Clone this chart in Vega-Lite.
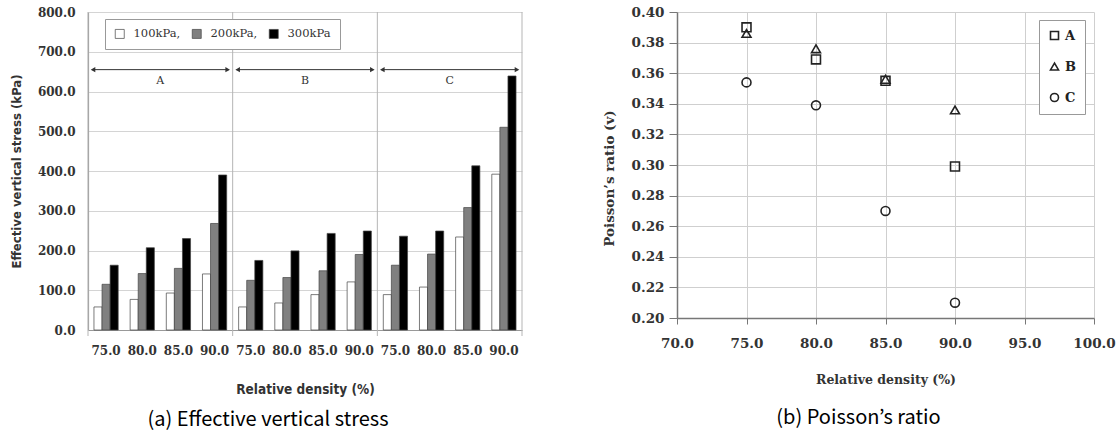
{
  "$schema": "https://vega.github.io/schema/vega-lite/v6.json",
  "padding": {"left": 10, "top": 5, "right": 0, "bottom": 0},
  "background": "white",
  "spacing": 79,
  "resolve": {"legend": {"color": "independent", "shape": "independent"}},
  "config": {
    "view": {"stroke": null},
    "font": "DejaVu Serif",
    "axis": {"labelColor": "#333", "titleColor": "#333", "labelOverlap": false, "labelFlush": false}
  },
  "datasets": {
    "stress": [
      {"cat": "A 75.0", "pressure": "100kPa", "value": 58},
      {"cat": "A 75.0", "pressure": "200kPa", "value": 115},
      {"cat": "A 75.0", "pressure": "300kPa", "value": 163},
      {"cat": "A 80.0", "pressure": "100kPa", "value": 77},
      {"cat": "A 80.0", "pressure": "200kPa", "value": 142},
      {"cat": "A 80.0", "pressure": "300kPa", "value": 207},
      {"cat": "A 85.0", "pressure": "100kPa", "value": 93},
      {"cat": "A 85.0", "pressure": "200kPa", "value": 155},
      {"cat": "A 85.0", "pressure": "300kPa", "value": 230},
      {"cat": "A 90.0", "pressure": "100kPa", "value": 141},
      {"cat": "A 90.0", "pressure": "200kPa", "value": 268},
      {"cat": "A 90.0", "pressure": "300kPa", "value": 390},
      {"cat": "B 75.0", "pressure": "100kPa", "value": 58},
      {"cat": "B 75.0", "pressure": "200kPa", "value": 125},
      {"cat": "B 75.0", "pressure": "300kPa", "value": 175},
      {"cat": "B 80.0", "pressure": "100kPa", "value": 68},
      {"cat": "B 80.0", "pressure": "200kPa", "value": 132},
      {"cat": "B 80.0", "pressure": "300kPa", "value": 199},
      {"cat": "B 85.0", "pressure": "100kPa", "value": 89},
      {"cat": "B 85.0", "pressure": "200kPa", "value": 149},
      {"cat": "B 85.0", "pressure": "300kPa", "value": 243},
      {"cat": "B 90.0", "pressure": "100kPa", "value": 121},
      {"cat": "B 90.0", "pressure": "200kPa", "value": 190},
      {"cat": "B 90.0", "pressure": "300kPa", "value": 249},
      {"cat": "C 75.0", "pressure": "100kPa", "value": 89},
      {"cat": "C 75.0", "pressure": "200kPa", "value": 163},
      {"cat": "C 75.0", "pressure": "300kPa", "value": 236},
      {"cat": "C 80.0", "pressure": "100kPa", "value": 108},
      {"cat": "C 80.0", "pressure": "200kPa", "value": 191},
      {"cat": "C 80.0", "pressure": "300kPa", "value": 249},
      {"cat": "C 85.0", "pressure": "100kPa", "value": 234},
      {"cat": "C 85.0", "pressure": "200kPa", "value": 308},
      {"cat": "C 85.0", "pressure": "300kPa", "value": 413},
      {"cat": "C 90.0", "pressure": "100kPa", "value": 392},
      {"cat": "C 90.0", "pressure": "200kPa", "value": 510},
      {"cat": "C 90.0", "pressure": "300kPa", "value": 639}
    ],
    "groups": [
      {"grp": "A", "start": 0, "mid": 2, "end": 4},
      {"grp": "B", "start": 4, "mid": 6, "end": 8},
      {"grp": "C", "start": 8, "mid": 10, "end": 12}
    ],
    "bounds": [{"b": 0}, {"b": 4}, {"b": 8}, {"b": 12}],
    "poisson": [
      {"series": "A", "density": 75, "ratio": 0.390},
      {"series": "A", "density": 80, "ratio": 0.369},
      {"series": "A", "density": 85, "ratio": 0.355},
      {"series": "A", "density": 90, "ratio": 0.299},
      {"series": "B", "density": 75, "ratio": 0.386},
      {"series": "B", "density": 80, "ratio": 0.376},
      {"series": "B", "density": 85, "ratio": 0.356},
      {"series": "B", "density": 90, "ratio": 0.336},
      {"series": "C", "density": 75, "ratio": 0.354},
      {"series": "C", "density": 80, "ratio": 0.339},
      {"series": "C", "density": 85, "ratio": 0.270},
      {"series": "C", "density": 90, "ratio": 0.210}
    ]
  },
  "hconcat": [
    {
      "width": 434,
      "height": 318,
      "title": {"text": "(a) Effective vertical stress", "orient": "bottom", "frame": "group", "anchor": "middle", "dx": -37, "offset": 14, "font": "Noto Sans CJK KR", "fontSize": 20, "fontWeight": "normal", "color": "#000"},
      "layer": [
        {
          "data": {"name": "stress"},
          "mark": {"type": "bar", "stroke": "#444", "strokeWidth": 0.7},
          "encoding": {
            "x": {
              "field": "cat", "type": "nominal", "sort": null,
              "scale": {"paddingInner": 0.33, "paddingOuter": 0.165},
              "axis": {
                "labelExpr": "substring(datum.value, 2)", "labelAngle": 0, "ticks": false, "labelOverlap": false,
                "labelPadding": 15, "labelFont": "DejaVu Serif", "labelFontWeight": "bold", "labelFontSize": 12,
                "domainColor": "#999", "domainWidth": 1.2, "grid": false,
                "title": "Relative density (%)", "titleFont": "DejaVu Sans Condensed, Liberation Sans Narrow, sans-serif",
                "titleFontSize": 13.5, "titleFontWeight": "bold", "titlePadding": 26
              }
            },
            "xOffset": {"field": "pressure", "type": "nominal", "scale": {"paddingInner": 0, "paddingOuter": 0}},
            "y": {
              "field": "value", "type": "quantitative",
              "scale": {"domain": [0, 800], "nice": false},
              "axis": {
                "orient": "left",
                "values": [0, 100, 200, 300, 400, 500, 600, 700, 800], "format": ".1f", "labelOverlap": false,
                "ticks": false, "labelPadding": 13, "labelFont": "DejaVu Serif", "labelFontWeight": "bold", "labelFontSize": 12,
                "domainColor": "#999", "domainWidth": 1.2, "grid": true, "gridColor": "#d4d4d4",
                "title": "Effective vertical stress (kPa)", "titleFont": "DejaVu Sans Condensed, Liberation Sans Narrow, sans-serif",
                "titleFontSize": 13, "titleFontWeight": "bold", "titlePadding": 14
              }
            },
            "color": {
              "field": "pressure", "type": "nominal",
              "scale": {"domain": ["100kPa", "200kPa", "300kPa"], "range": ["#ffffff", "#808080", "#000000"]},
              "legend": {
                "title": null, "orient": "none", "legendX": 17, "legendY": 7, "direction": "horizontal",
                "symbolType": "square", "symbolSize": 81, "symbolStrokeColor": "#444", "symbolStrokeWidth": 0.7,
                "labelFont": "DejaVu Serif", "labelFontSize": 11.5, "labelColor": "#333", "labelOffset": 8,
                "columnPadding": 9, "labelExpr": "datum.label == '300kPa' ? datum.label : datum.label + ','",
                "strokeColor": "#999", "fillColor": "white", "padding": 9
              }
            }
          }
        },
        {
          "layer": [
            {
              "data": {"name": "bounds"},
              "mark": {"type": "rule", "color": "#b5b5b5", "strokeWidth": 1, "y2Offset": 6},
              "encoding": {
                "x": {"field": "b", "type": "quantitative", "scale": {"domain": [0, 12], "nice": false, "zero": false}, "axis": null},
                "y": {"datum": 800, "type": "quantitative", "axis": null},
                "y2": {"datum": 0}
              }
            },
            {
              "data": {"name": "groups"},
              "mark": {"type": "rule", "color": "#333", "strokeWidth": 1, "xOffset": 4, "x2Offset": -4},
              "encoding": {
                "x": {"field": "start", "type": "quantitative", "scale": {"domain": [0, 12], "nice": false, "zero": false}, "axis": null},
                "x2": {"field": "end"},
                "y": {"datum": 655, "type": "quantitative", "axis": null}
              }
            },
            {
              "data": {"name": "groups"},
              "mark": {"type": "point", "shape": "triangle-left", "filled": true, "color": "#333", "size": 28, "xOffset": 5, "opacity": 1},
              "encoding": {
                "x": {"field": "start", "type": "quantitative", "scale": {"domain": [0, 12], "nice": false, "zero": false}, "axis": null},
                "y": {"datum": 655, "type": "quantitative", "axis": null}
              }
            },
            {
              "data": {"name": "groups"},
              "mark": {"type": "point", "shape": "triangle-right", "filled": true, "color": "#333", "size": 28, "xOffset": -5, "opacity": 1},
              "encoding": {
                "x": {"field": "end", "type": "quantitative", "scale": {"domain": [0, 12], "nice": false, "zero": false}, "axis": null},
                "y": {"datum": 655, "type": "quantitative", "axis": null}
              }
            },
            {
              "data": {"name": "groups"},
              "mark": {"type": "text", "font": "DejaVu Serif", "fontSize": 11, "color": "#333", "baseline": "middle"},
              "encoding": {
                "x": {"field": "mid", "type": "quantitative", "scale": {"domain": [0, 12], "nice": false, "zero": false}, "axis": null},
                "y": {"datum": 627, "type": "quantitative", "axis": null},
                "text": {"field": "grp"}
              }
            }
          ]
        }
      ],
      "resolve": {"scale": {"x": "independent"}, "axis": {"x": "independent", "y": "independent"}}
    },
    {
      "width": 417,
      "height": 306,
      "title": {"text": "(b) Poisson’s ratio", "orient": "bottom", "frame": "group", "anchor": "middle", "dx": -27, "offset": 22, "font": "Noto Sans CJK KR", "fontSize": 20, "fontWeight": "normal", "color": "#000"},
      "data": {"name": "poisson"},
      "mark": {"type": "point", "filled": false, "strokeWidth": 1.6, "size": 80, "color": "#222", "opacity": 1},
      "encoding": {
        "x": {
          "field": "density", "type": "quantitative",
          "scale": {"domain": [70, 100], "nice": false, "zero": false},
          "axis": {
            "values": [70, 75, 80, 85, 90, 95, 100], "format": ".1f", "labelOverlap": false,
            "tickSize": 6, "tickColor": "#777", "labelPadding": 12,
            "labelFont": "DejaVu Serif", "labelFontWeight": "bold", "labelFontSize": 13.5,
            "domainColor": "#777", "domainWidth": 1.5, "gridColor": "#cfcfcf",
            "title": "Relative density (%)", "titleFont": "DejaVu Serif", "titleFontSize": 12.5, "titleFontWeight": "bold", "titlePadding": 24
          }
        },
        "y": {
          "field": "ratio", "type": "quantitative",
          "scale": {"domain": [0.2, 0.4], "nice": false, "zero": false},
          "axis": {
            "values": [0.2, 0.22, 0.24, 0.26, 0.28, 0.3, 0.32, 0.34, 0.36, 0.38, 0.4], "format": ".2f", "labelOverlap": false,
            "tickSize": 8, "tickColor": "#777", "labelPadding": 5,
            "labelFont": "DejaVu Serif", "labelFontWeight": "bold", "labelFontSize": 13.5,
            "domainColor": "#777", "domainWidth": 1.5, "gridColor": "#cfcfcf",
            "title": "Poisson’s ratio (v)", "titleFont": "DejaVu Serif", "titleFontSize": 13.5, "titleFontWeight": "bold", "titlePadding": 15,
            "titleY": 166
          }
        },
        "shape": {
          "field": "series", "type": "nominal",
          "scale": {"domain": ["A", "B", "C"], "range": ["square", "triangle-up", "circle"]},
          "legend": {
            "title": null, "orient": "none", "legendX": 362, "legendY": 8,
            "symbolSize": 64, "symbolStrokeWidth": 1.6, "symbolStrokeColor": "#222",
            "labelFont": "DejaVu Serif", "labelFontWeight": "bold", "labelFontSize": 13, "labelColor": "#222", "labelOffset": 4,
            "rowPadding": 16, "strokeColor": "#999", "fillColor": "white", "padding": 9
          }
        }
      }
    }
  ]
}
